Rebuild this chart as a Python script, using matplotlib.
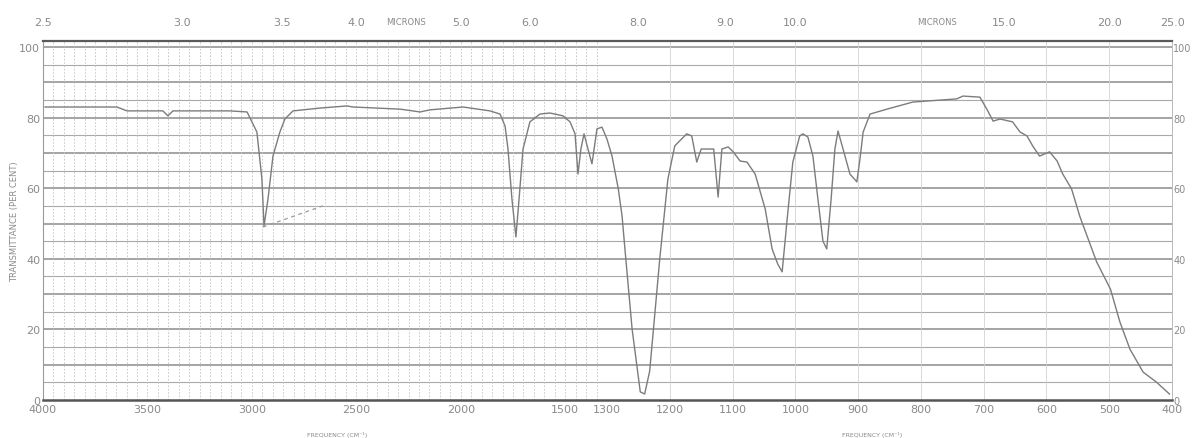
import numpy as np
import matplotlib.pyplot as plt

# Spectrum trace
# (wavenumber in cm-1, transmittance in per cent)
wavenumber = [3990, 3646, 3598, 3426, 3402, 3378, 3105, 3023, 2995, 2976,
              2952, 2942, 2923, 2899, 2866, 2842, 2803, 2674, 2545, 2516,
              2291, 2195, 2147, 1989, 1860, 1812, 1788, 1774, 1755, 1736,
              1721, 1702, 1669, 1621, 1573, 1511, 1477, 1453, 1439, 1425,
              1410, 1391, 1372, 1348, 1324, 1300, 1292, 1282, 1276, 1271,
              1260, 1247, 1240, 1232, 1216, 1203, 1192, 1173, 1165, 1157,
              1150, 1130, 1123, 1117, 1107, 1099, 1088, 1077, 1064, 1048,
              1037, 1028, 1021, 1013, 1004, 993, 988, 980, 972, 964,
              956, 950, 943, 937, 932, 924, 913, 902, 897, 892,
              881, 854, 813, 743, 733, 706, 695, 685, 674, 654,
              642, 631, 622, 611, 595, 583, 574, 560, 547, 520,
              498, 483, 467, 446, 425, 409, 404]
transmittance = [83.0, 83.0, 81.9, 81.9, 80.5, 81.9, 81.9, 81.6, 78.2, 75.9,
                 62.6, 49.3, 56.9, 69.1, 75.9, 79.6, 81.9, 82.7, 83.3, 83.0,
                 82.4, 81.6, 82.2, 83.0, 81.9, 81.0, 77.6, 71.1, 56.9, 46.2,
                 56.9, 71.1, 78.8, 81.0, 81.3, 80.5, 78.8, 75.4, 64.0, 71.1,
                 75.4, 71.1, 66.9, 76.8, 77.3, 73.9, 69.1, 59.8, 52.1, 41.9,
                 20.1, 2.3, 1.7, 8.2, 39.9, 62.6, 72.0, 75.4, 74.8, 67.4,
                 71.1, 71.1, 57.5, 71.1, 71.7, 70.3, 67.7, 67.4, 64.0, 54.1,
                 42.8, 38.5, 36.3, 51.3, 67.4, 74.8, 75.4, 74.5, 69.1, 56.9,
                 45.0, 42.8, 56.9, 71.1, 76.2, 71.1, 64.0, 61.8, 68.3, 75.9,
                 81.0, 82.4, 84.4, 85.3, 86.1, 85.8, 82.4, 79.0, 79.6, 78.8,
                 75.9, 74.8, 72.0, 69.1, 70.3, 67.7, 64.0, 59.8, 52.1, 39.1,
                 31.4, 22.1, 14.4, 7.9, 5.1, 2.5, 1.7]

# faint dashed pen stroke under the C-H band
dash_wavenumber = [2947, 2660]
dash_transmittance = [49.0, 55.0]

# Axis labels
freq_ticks = [4000, 3500, 3000, 2500, 2000, 1500, 1300, 1200, 1100, 1000,
              900, 800, 700, 600, 500, 400]
micron_ticks = [2.5, 3.0, 3.5, 4.0, 5.0, 6.0, 8.0, 9.0, 10.0, 15.0, 20.0, 25.0]
pct_ticks = [0, 20, 40, 60, 80, 100]

TEXT = '#8a8a8a'


# chart paper: 4000-1300 cm-1 compressed, 1300-400 cm-1 expanded
def forward(nu):
    return np.interp(nu, [400, 1300, 4000], [0, 565, 1129])


def inverse(p):
    return np.interp(p, [0, 565, 1129], [400, 1300, 4000])


fig = plt.figure(figsize=(11.93, 4.39), dpi=100)
ax = fig.add_axes([0.03604, 0.08656, 0.94636, 0.81777])

ax.set_xscale('function', functions=(forward, inverse))
ax.set_xlim(4000, 400)
ax.set_ylim(0, 101.7)

# Grid of the chart paper
for t in np.arange(5, 101, 5):
    if t % 10 == 0:
        ax.axhline(t, color='#8c8c8c', lw=1.1, zorder=1)
    else:
        ax.axhline(t, color='#a9a9a9', lw=0.8, zorder=1)

for nu in np.arange(1350, 4000, 50):
    ax.axvline(nu, color='#c2c2c2', lw=0.6, ls=(0, (2, 2)), zorder=1)

for nu in np.arange(500, 1300, 100):
    ax.axvline(nu, color='#d2d2d2', lw=0.6, zorder=1)

# Spectrum
ax.plot(wavenumber, transmittance, color='#7c7c7c', lw=1.0, zorder=3)
ax.plot(dash_wavenumber, dash_transmittance, color='#9a9a9a', lw=0.9,
        ls=(0, (3, 3)), zorder=3)

# Frame
ax.spines['top'].set_color('#5a5a5a')
ax.spines['top'].set_linewidth(1.6)
ax.spines['bottom'].set_color('#555555')
ax.spines['bottom'].set_linewidth(1.8)
ax.spines['left'].set_color('#9a9a9a')
ax.spines['left'].set_linewidth(0.8)
ax.spines['right'].set_color('#b0b0b0')
ax.spines['right'].set_linewidth(0.6)

ax.set_xticks(freq_ticks)
ax.set_xticklabels([str(f) for f in freq_ticks])
ax.set_yticks(pct_ticks)
ax.set_yticklabels([str(p) for p in pct_ticks])
ax.tick_params(axis='both', length=0, labelsize=8, labelcolor=TEXT, pad=3)
ax.tick_params(axis='y', left=True, labelleft=True, pad=2)

# right-hand scale sits close to the paper edge
right = ax.secondary_yaxis('right')
right.set_yticks(pct_ticks)
right.set_yticklabels([str(p) for p in pct_ticks])
right.tick_params(length=0, labelsize=7, labelcolor=TEXT, pad=1)
right.spines['right'].set_visible(False)

# Microns along the top
top = ax.twiny()
top.set_xscale('function', functions=(forward, inverse))
top.set_xlim(4000, 400)
top.set_xticks([10000 / m for m in micron_ticks])
top.set_xticklabels(['%.1f' % m for m in micron_ticks])
top.tick_params(length=0, labelsize=8, labelcolor=TEXT, pad=10)
for s in top.spines.values():
    s.set_visible(False)

ax.text(2262, 1.053, 'MICRONS', transform=ax.get_xaxis_transform(),
        ha='center', va='center', fontsize=6, color=TEXT)
ax.text(775, 1.053, 'MICRONS', transform=ax.get_xaxis_transform(),
        ha='center', va='center', fontsize=6, color=TEXT)

ax.text(2593, -0.095, 'FREQUENCY (CM\u207b\u00b9)', transform=ax.get_xaxis_transform(),
        ha='center', va='center', fontsize=4.5, color=TEXT)
ax.text(878, -0.095, 'FREQUENCY (CM\u207b\u00b9)', transform=ax.get_xaxis_transform(),
        ha='center', va='center', fontsize=4.5, color=TEXT)

fig.text(0.0126, 0.494, 'TRANSMITTANCE (PER CENT)', rotation=90,
         ha='center', va='center', fontsize=6, color=TEXT)

fig.savefig('out.png', dpi=100)
